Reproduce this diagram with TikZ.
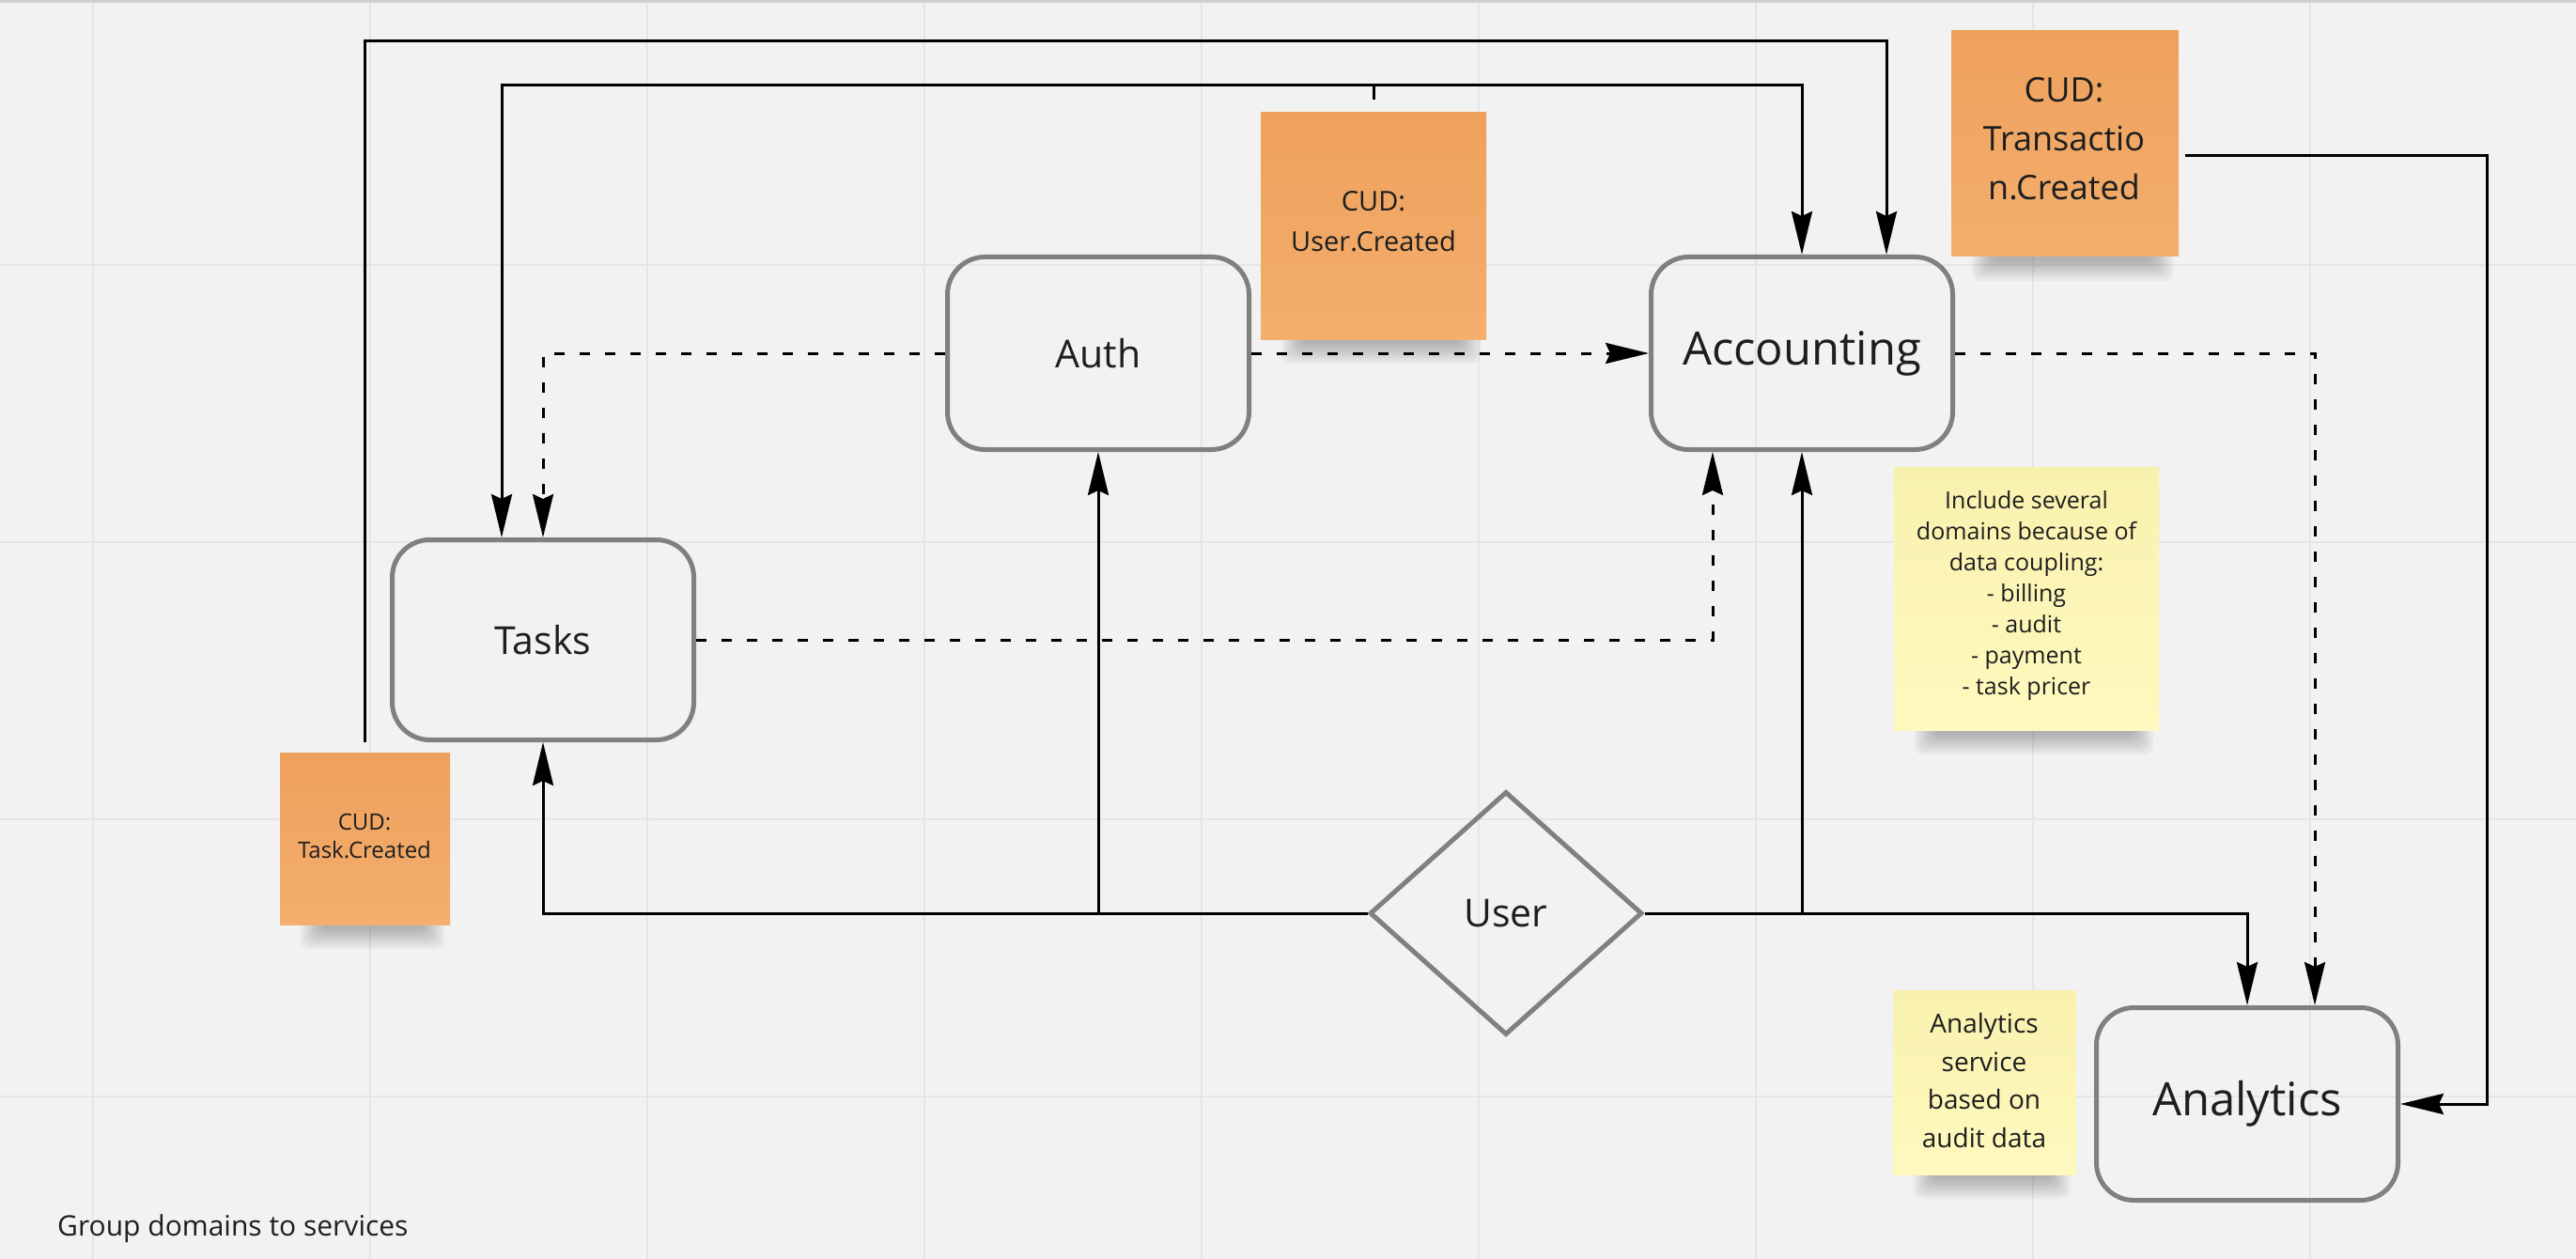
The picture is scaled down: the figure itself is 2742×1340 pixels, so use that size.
\documentclass[tikz,border=0pt]{standalone}
\usepackage{fontspec}
\setmainfont{Open Sans}
\usetikzlibrary{arrows.meta,shapes.geometric,calc}
\definecolor{bg}{HTML}{F2F2F2}
\definecolor{gridc}{HTML}{E5E5E5}
\definecolor{topline}{HTML}{CFCFCF}
\definecolor{boxgrey}{HTML}{808080}
\definecolor{ink}{HTML}{1E1E1E}
\definecolor{orA}{HTML}{EEA15C}
\definecolor{orB}{HTML}{F4AE6E}
\definecolor{yeA}{HTML}{F8F1AE}
\definecolor{yeB}{HTML}{FFF9BF}
\newcommand\mkshadow[3]{%
  \foreach \k in {0,...,7}{%
    \fill[black,opacity=0.035,rounded corners=8pt] (#1+22+3*\k,#3-15) rectangle (#2-6-3*\k,#3+26-3*\k);}}
\begin{document}
\begin{tikzpicture}[x=1pt,y=-1pt,
  box/.style={draw=boxgrey,line width=5pt,rounded corners=40pt,inner sep=0pt,text=ink,
    minimum width=321pt,minimum height=205pt},
  boxfont/.style={font=\fontsize{41}{50}\selectfont},
  bigfont/.style={font=\fontsize{49}{60}\selectfont},
  onote/.style={shade,top color=orA,bottom color=orB,inner sep=0pt},
  ynote/.style={shade,top color=yeA,bottom color=yeB,inner sep=0pt},
  ntext/.style={text=ink,align=center,inner sep=0pt},
  conn/.style={draw=black,line width=3pt,-{Stealth[length=46pt,width=22pt,inset=5pt]}},
  plain/.style={draw=black,line width=3pt},
  dconn/.style={conn,dash pattern=on 11pt off 16pt}]
% background
\fill[bg] (0,0) rectangle (2742,1340);
\useasboundingbox (0,0) rectangle (2742,1340);
\foreach \gx in {99,394,689,984,1279,1574,1869,2164,2459}{\draw[gridc,line width=2.5pt] (\gx,0) -- (\gx,1340);}
\foreach \gy in {282,577,872,1167}{\draw[gridc,line width=2.5pt] (0,\gy) -- (2742,\gy);}
\draw[topline,line width=3pt] (0,1.5) -- (2742,1.5);

% shadows of notes
\mkshadow{1342}{1582}{361}
\mkshadow{2077}{2319}{273}
\mkshadow{298}{479}{984}
\mkshadow{2016}{2298}{777}
\mkshadow{2015}{2210}{1250}

% service boxes
\node[box,boxfont] (auth) at (1169,376) {Auth};
\node[box,bigfont] (acc) at (1918,376) {Accounting};
\node[box,boxfont,minimum height=213pt] (tasks) at (578,681) {Tasks};
\node[box,bigfont] (ana) at (2392,1175) {Analytics};
\node[diamond,draw=boxgrey,line width=5pt,inner sep=0pt,minimum width=290pt,minimum height=259pt,text=ink,boxfont] (user) at (1603,972) {User};

% sticky notes
\node[onote,minimum width=240pt,minimum height=241pt] (ucnote) at (1462,240.5) {};
\node[ntext,font=\fontsize{29}{43}\selectfont] (uctext) at (1462,236) {CUD:\\User.Created};
\node[onote,minimum width=242pt,minimum height=240pt] (trnote) at (2198,153) {};
\node[ntext,font=\fontsize{36}{52}\selectfont] (trtext) at (2197,148) {CUD:\\Transactio\\n.Created};
\node[onote,minimum width=181pt,minimum height=183pt] (tcnote) at (388.5,892.5) {};
\node[ntext,font=\fontsize{24}{30.5}\selectfont] (tctext) at (388,890) {CUD:\\Task.Created};
\node[ynote,minimum width=282pt,minimum height=280pt] (inclnote) at (2157,637) {};
\node[ntext,font=\fontsize{25}{33}\selectfont] (incltext) at (2157,634) {Include several\\domains because of\\data coupling:\\- billing\\- audit\\- payment\\- task pricer};
\node[ynote,minimum width=195pt,minimum height=196pt] (anote) at (2112.5,1152) {};
\node[ntext,font=\fontsize{28}{40.5}\selectfont] (atext) at (2112,1150) {Analytics\\service\\based on\\audit data};

% caption
\node[anchor=base west,inner sep=0pt,text=ink,font=\fontsize{30}{36}\selectfont] (caption) at (61,1315) {Group domains to services};

% helper coordinates
\coordinate (lane1) at (0,44);
\coordinate (lane2) at (0,91);
\coordinate (lane3) at (2647,0);
\coordinate (tcs) at ($(tcnote.north)+(0,-11)$);
\coordinate (ucs) at ($(ucnote.north)+(0,-14)$);
\coordinate (trs) at (2326,166);
\coordinate (acctop2) at ($(acc.north)+(90,0)$);
\coordinate (tasktop1) at ($(tasks.north)+(-44,0)$);
\coordinate (accbot1) at ($(acc.south)+(-95,0)$);
\coordinate (anatop2) at ($(ana.north)+(72,0)$);

% event connectors (solid)
\draw[conn] (tcs) -- (tcs |- lane1) -- (acctop2 |- lane1) -- (acctop2);
\draw[plain] (ucs) -- (ucs |- lane2);
\draw[conn] (ucs |- lane2) -- (tasktop1 |- lane2) -- (tasktop1);
\draw[conn] (ucs |- lane2) -- (acc.north |- lane2) -- (acc.north);
\draw[conn] (trs) -- (trs -| lane3) -- (lane3 |- ana.east) -- (ana.east);

% dashed connectors
\draw[dconn] (auth.west) -| (tasks.north);
\draw[dconn] (auth.east) -- (acc.west);
\draw[dconn] (tasks.east) -| (accbot1);
\draw[dconn] (acc.east) -| (anatop2);

% user connectors
\draw[conn] (user.west) -| (tasks.south);
\draw[conn] (auth.south |- user.west) -- (auth.south);
\draw[conn] (user.east) -| (ana.north);
\draw[conn] (acc.south |- user.east) -- (acc.south);
\end{tikzpicture}
\end{document}
